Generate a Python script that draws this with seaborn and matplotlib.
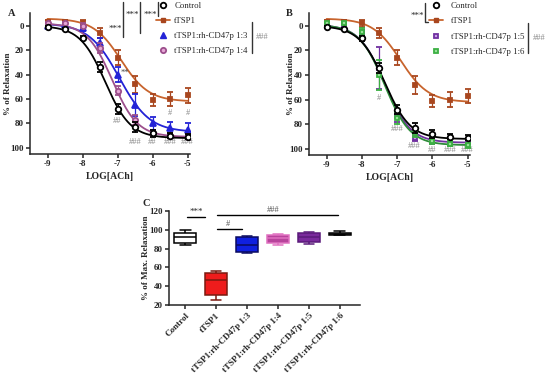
import numpy as np
import pandas as pd
import matplotlib
matplotlib.use("Agg")
import matplotlib.pyplot as plt
import seaborn as sns
from matplotlib.lines import Line2D

# ---------------- data ----------------
log_ach = [-9, -8.5, -8, -7.5, -7, -6.5, -6, -5.5, -5]
x_ticks = [-9, -8, -7, -6, -5]
y_ticks_ab = [0, 20, 40, 60, 80, 100]

ctrl = [1, 2.5, 10, 34, 68, 83, 88, 90, 91]
ctrl_err = [1, 1, 2, 4, 4, 4, 3, 2, 2]
tsp = [-3, -3, -2, 6, 26, 48, 61, 60, 57]
tsp_err = [2, 2, 3, 4, 6, 7, 5, 6, 6]
r13 = [0, -1, 2, 14, 40, 65, 80, 84, 85]
r13_err = [1, 1, 2, 4, 6, 9, 5, 5, 5]
r14 = [-2, -2, 0, 18, 53, 77, 88, 90, 91]
r14_err = [1, 1, 2, 4, 4, 4, 2, 2, 2]
r15 = [0, -1, 5, 34, 73, 91, 94, 96, 94]
r15_err = [1, 1, 2, 17, 5, 3, 2, 2, 2]
r16 = [-2, -2, 5, 40, 75, 87, 94, 96, 97]
r16_err = [1, 1, 3, 12, 5, 3, 2, 2, 2]

# fitted sigmoid parameters: [start, plateau, logEC50, hill]
fit_ctrl = [0, 92, -7.35, 1.2]
fit_tsp = [-6, 62, -6.9, 1.1]
fit_r13 = [-2, 87, -6.95, 1.0]
fit_r14 = [-2, 91, -7.15, 1.2]
fit_r15 = [-1, 95, -7.35, 1.2]
fit_r16 = [-1, 97, -7.35, 1.2]

# panel C box statistics: [min, q1, median, q3, max]
box_groups = ["Control", "tTSP1", "tTSP1:rh-CD47p 1:3", "tTSP1:rh-CD47p 1:4",
              "tTSP1:rh-CD47p 1:5", "tTSP1:rh-CD47p 1:6"]
box_ctrl = [84, 86, 92, 97, 100]
box_tsp = [25, 31, 47, 54, 56]
box_r13 = [75, 76, 84, 92, 93]
box_r14 = [84, 86, 91, 95, 96]
box_r15 = [85, 87, 92, 97, 98]
box_r16 = [94, 95, 96, 97, 99]
y_ticks_c = [20, 40, 60, 80, 100, 120]

# ---------------- style ----------------
sns.set_style("ticks")
plt.rcParams["font.family"] = ["Liberation Serif", "DejaVu Serif"]
plt.rcParams["axes.linewidth"] = 1.1
plt.rcParams["xtick.major.width"] = 1.1
plt.rcParams["ytick.major.width"] = 1.1
plt.rcParams["xtick.major.size"] = 3
plt.rcParams["ytick.major.size"] = 3

W, H = 550, 376
fig = plt.figure(figsize=(W / 100, H / 100), dpi=100)


def px_axes(l, t, r, b):
    a = fig.add_axes([l / W, 1 - b / H, (r - l) / W, (b - t) / H])
    a.patch.set_alpha(0)
    return a


C_CTRL = "black"
C_TSP = "#a8461e"
C_TSPL = "#c8642d"
C_R13 = "#2323d6"
C_R14 = "#9c4f8c"
C_R15 = "#7030a0"
C_R16 = "#3cb043"
C_R16L = "#2e8b3a"
GRAY = "#8a8a8a"

xs = np.linspace(-9, -5, 200)


def curve(p):
    s, m, ec, h = p
    return s + (m - s) / (1 + 10 ** ((ec - xs) * h))


def draw_series(ax, y, e, fit, lc, mk, mfc, mec, ms=4, z=3):
    dfc = pd.DataFrame({"x": xs, "y": curve(fit)})
    sns.lineplot(data=dfc, x="x", y="y", ax=ax, color=lc, lw=1.3, zorder=z)
    ax.errorbar(log_ach, y, yerr=e, fmt=mk, ms=ms, mfc=mfc, mec=mec, mew=1.3,
                ecolor=mec, elinewidth=0.9, capsize=2, capthick=0.9, zorder=z + 1)


def style_ab(ax, ylab_x):
    ax.set_xlim(-9.5, -4.93)
    ax.set_ylim(105, -10.5)
    ax.set_xticks(x_ticks)
    ax.set_xticklabels([str(v) for v in x_ticks])
    ax.set_yticks(y_ticks_ab)
    sns.despine(ax=ax)
    for lab in ax.get_xticklabels() + ax.get_yticklabels():
        lab.set_fontweight("bold")
        lab.set_fontsize(6.5)
    ax.tick_params(pad=1.5)
    ax.set_xlabel("LOG[ACh]", fontsize=7, fontweight="bold", labelpad=3)
    ax.set_ylabel("% of Relaxation", fontsize=6.5, fontweight="bold")
    ax.yaxis.set_label_coords(ylab_x, 0.5)


LEG_FS = 6.3

# ---------------- panel A ----------------
axA = px_axes(30, 13, 190, 154)
draw_series(axA, tsp, tsp_err, fit_tsp, C_TSPL, "s", C_TSP, C_TSP, ms=3.5, z=3)
draw_series(axA, r13, r13_err, fit_r13, C_R13, "^", C_R13, C_R13, ms=4, z=4)
draw_series(axA, r14, r14_err, fit_r14, C_R14, "o", "#e6a6d6", C_R14, ms=3.8, z=5)
draw_series(axA, ctrl, ctrl_err, fit_ctrl, C_CTRL, "o", "white", C_CTRL, ms=4, z=6)
style_ab(axA, -0.1125)

kw = dict(color=GRAY, fontsize=6, ha="center", va="center")
axA.text(-7, 78, "##", **kw)
for xv in [-6.5, -5.5, -5]:
    axA.text(xv, 95, "###", **kw)
axA.text(-6, 95, "##", **kw)
axA.text(-5.5, 71.5, "#", **kw)
axA.text(-5, 71.5, "#", **kw)
axA.text(-6.8, 38.5, "**", color="#444444", fontsize=6, ha="center", va="center")

hA = [Line2D([], [], ls="none", marker="o", ms=4, mfc="white", mec="black", mew=1.3),
      Line2D([], [], color=C_TSPL, lw=1.3, marker="s", ms=3.5, mfc=C_TSP, mec=C_TSP),
      Line2D([], [], ls="none", marker="^", ms=4, color=C_R13),
      Line2D([], [], ls="none", marker="o", ms=3.8, mfc="#e6a6d6", mec=C_R14, mew=1.3)]
legA = axA.legend(hA, ["Control", "tTSP1", "tTSP1:rh-CD47p 1:3", "tTSP1:rh-CD47p 1:4"],
                  loc="upper left", bbox_to_anchor=(156 / W, 1 - 2 / H),
                  bbox_transform=fig.transFigure, frameon=False, fontsize=LEG_FS,
                  handlelength=1.55, handletextpad=0.55, labelspacing=0.78,
                  borderpad=0, borderaxespad=0)

# ---------------- panel B ----------------
axB = px_axes(309, 13, 470, 155)
draw_series(axB, tsp, tsp_err, fit_tsp, C_TSPL, "s", C_TSP, C_TSP, ms=3.5, z=3)
draw_series(axB, r15, r15_err, fit_r15, C_R15, "s", "#c8a0e8", C_R15, ms=3.5, z=4)
draw_series(axB, r16, r16_err, fit_r16, C_R16L, "s", "#98e098", C_R16, ms=3.5, z=5)
draw_series(axB, ctrl, ctrl_err, fit_ctrl, C_CTRL, "o", "white", C_CTRL, ms=4, z=6)
style_ab(axB, -0.09)

axB.text(-7.5, 58.5, "#", **kw)
axB.text(-7, 84, "###", **kw)
axB.text(-6.5, 98, "###", **kw)
axB.text(-6, 101, "##", **kw)
axB.text(-5.5, 101, "###", **kw)
axB.text(-5, 101, "###", **kw)

hB = [Line2D([], [], ls="none", marker="o", ms=4, mfc="white", mec="black", mew=1.3),
      Line2D([], [], color=C_TSPL, lw=1.3, marker="s", ms=3.5, mfc=C_TSP, mec=C_TSP),
      Line2D([], [], ls="none", marker="s", ms=3.5, mfc="#c8a0e8", mec=C_R15, mew=1.3),
      Line2D([], [], ls="none", marker="s", ms=3.5, mfc="#98e098", mec=C_R16, mew=1.3)]
legB = axB.legend(hB, ["Control", "tTSP1", "tTSP1:rh-CD47p 1:5", "tTSP1:rh-CD47p 1:6"],
                  loc="upper left", bbox_to_anchor=(429 / W, 1 - 2 / H),
                  bbox_transform=fig.transFigure, frameon=False, fontsize=LEG_FS,
                  handlelength=1.55, handletextpad=0.95, labelspacing=0.82,
                  borderpad=0, borderaxespad=0)

# ---------------- panel C ----------------
axC = px_axes(169, 211, 360, 305)
box_vals = [box_ctrl, box_tsp, box_r13, box_r14, box_r15, box_r16]
fills = ["white", "#ee1c1c", "#1020e0", "#b8449c", "#7a2a9c", "white"]
edges = ["black", "#7a1a10", "#0a0a60", "#e070c0", "#5a1a7a", "black"]
for g, vals, fc, ec in zip(box_groups, box_vals, fills, edges):
    dfb = pd.DataFrame({"group": [g] * len(vals), "val": vals})
    sns.boxplot(data=dfb, x="group", y="val", order=box_groups, ax=axC,
                color=fc, linecolor=ec, linewidth=1.1, whis=(0, 100),
                width=0.7, saturation=1)
axC.set_xlim(-0.52, 5.65)
axC.set_ylim(20, 120)
axC.set_yticks(y_ticks_c)
sns.despine(ax=axC)
axC.set_xlabel("")
axC.set_ylabel("% of Max. Relaxation", fontsize=6.5, fontweight="bold")
axC.yaxis.set_label_coords(-0.102, 0.5)
axC.set_xticks(range(len(box_groups)))
axC.set_xticklabels(box_groups, rotation=45, ha="right", rotation_mode="anchor")
for lab in axC.get_xticklabels() + axC.get_yticklabels():
    lab.set_fontweight("bold")
    lab.set_fontsize(6.5)
axC.tick_params(pad=1.5)

axC.plot([0.05, 0.65], [114, 114], color="black", lw=1)
axC.text(0.35, 114.5, "***", fontsize=6.5, ha="center", va="bottom")
axC.plot([1.03, 4.94], [116, 116], color="black", lw=1)
axC.text(2.84, 116.3, "###", fontsize=6, ha="center", va="bottom", color="#555555")
axC.plot([1.03, 1.84], [101, 101], color="black", lw=1)
axC.text(1.39, 101.5, "#", fontsize=6, ha="center", va="bottom", color="#555555")

# ---------------- overlay for marks outside the axes ----------------
ov = fig.add_axes([0, 0, 1, 1])
ov.set_xlim(0, W)
ov.set_ylim(H, 0)
ov.axis("off")
ov.patch.set_alpha(0)
ov.set_zorder(10)

ov.text(115, 29, "***", fontsize=6.5, ha="center", va="center")
ov.plot([123, 123], [2, 37], color="#333333", lw=1)
ov.text(132, 15, "***", fontsize=6.5, ha="center", va="center")
ov.plot([140, 140], [2, 33], color="#333333", lw=1)
ov.text(150, 15, "***", fontsize=6.5, ha="center", va="center")
ov.plot([158, 158], [2, 16], color="#333333", lw=1)
ov.plot([252, 252], [22, 53], color="#333333", lw=1)
ov.text(262, 37, "###", color=GRAY, fontsize=6, ha="center", va="center")

ov.text(417, 16, "***", fontsize=6.5, ha="center", va="center")
ov.plot([425, 425, 428], [3, 22, 22], color="#333333", lw=1)
ov.plot([528, 528], [23, 53], color="#333333", lw=1)
ov.text(539, 38, "###", color=GRAY, fontsize=6, ha="center", va="center")

ov.text(12, 14, "A", fontsize=7.5, fontweight="bold", ha="center", va="center")
ov.text(289, 14, "B", fontsize=7.5, fontweight="bold", ha="center", va="center")
ov.text(146, 204, "C", fontsize=7.5, fontweight="bold", ha="center", va="center")

fig.savefig("out.png", dpi=100)
